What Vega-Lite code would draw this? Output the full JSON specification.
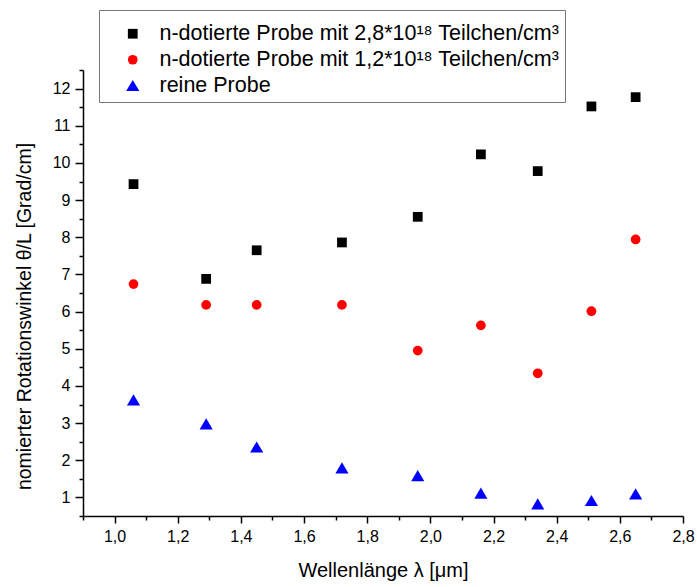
{
  "$schema": "https://vega.github.io/schema/vega-lite/v6.json",
  "width": 600,
  "height": 446,
  "autosize": {"type": "none"},
  "padding": {"left": 83, "top": 70, "right": 14, "bottom": 71},
  "background": "white",
  "config": {
    "view": {"stroke": null},
    "font": "Liberation Sans",
    "axis": {
      "domainColor": "black", "domainWidth": 1.5, "tickColor": "black", "tickWidth": 1.5,
      "labelColor": "black", "titleColor": "black", "labelFont": "Liberation Sans", "titleFont": "Liberation Sans",
      "titleFontWeight": "normal", "labelFontSize": 16, "titleFontSize": 20, "grid": false
    },
    "legend": {
      "labelFont": "Liberation Sans", "labelFontSize": 21.5, "labelColor": "black", "labelLimit": 600
    }
  },
  "data": {"values": [
    {"lambda": 1.06, "theta": 9.43, "serie": "n-dotierte Probe mit 2,8*10¹⁸ Teilchen/cm³"},
    {"lambda": 1.29, "theta": 6.88, "serie": "n-dotierte Probe mit 2,8*10¹⁸ Teilchen/cm³"},
    {"lambda": 1.45, "theta": 7.65, "serie": "n-dotierte Probe mit 2,8*10¹⁸ Teilchen/cm³"},
    {"lambda": 1.72, "theta": 7.86, "serie": "n-dotierte Probe mit 2,8*10¹⁸ Teilchen/cm³"},
    {"lambda": 1.96, "theta": 8.55, "serie": "n-dotierte Probe mit 2,8*10¹⁸ Teilchen/cm³"},
    {"lambda": 2.16, "theta": 10.23, "serie": "n-dotierte Probe mit 2,8*10¹⁸ Teilchen/cm³"},
    {"lambda": 2.34, "theta": 9.78, "serie": "n-dotierte Probe mit 2,8*10¹⁸ Teilchen/cm³"},
    {"lambda": 2.51, "theta": 11.52, "serie": "n-dotierte Probe mit 2,8*10¹⁸ Teilchen/cm³"},
    {"lambda": 2.65, "theta": 11.77, "serie": "n-dotierte Probe mit 2,8*10¹⁸ Teilchen/cm³"},
    {"lambda": 1.06, "theta": 6.74, "serie": "n-dotierte Probe mit 1,2*10¹⁸ Teilchen/cm³"},
    {"lambda": 1.29, "theta": 6.18, "serie": "n-dotierte Probe mit 1,2*10¹⁸ Teilchen/cm³"},
    {"lambda": 1.45, "theta": 6.18, "serie": "n-dotierte Probe mit 1,2*10¹⁸ Teilchen/cm³"},
    {"lambda": 1.72, "theta": 6.18, "serie": "n-dotierte Probe mit 1,2*10¹⁸ Teilchen/cm³"},
    {"lambda": 1.96, "theta": 4.95, "serie": "n-dotierte Probe mit 1,2*10¹⁸ Teilchen/cm³"},
    {"lambda": 2.16, "theta": 5.63, "serie": "n-dotierte Probe mit 1,2*10¹⁸ Teilchen/cm³"},
    {"lambda": 2.34, "theta": 4.34, "serie": "n-dotierte Probe mit 1,2*10¹⁸ Teilchen/cm³"},
    {"lambda": 2.51, "theta": 6.01, "serie": "n-dotierte Probe mit 1,2*10¹⁸ Teilchen/cm³"},
    {"lambda": 2.65, "theta": 7.94, "serie": "n-dotierte Probe mit 1,2*10¹⁸ Teilchen/cm³"},
    {"lambda": 1.06, "theta": 3.62, "serie": "reine Probe"},
    {"lambda": 1.29, "theta": 2.97, "serie": "reine Probe"},
    {"lambda": 1.45, "theta": 2.35, "serie": "reine Probe"},
    {"lambda": 1.72, "theta": 1.79, "serie": "reine Probe"},
    {"lambda": 1.96, "theta": 1.58, "serie": "reine Probe"},
    {"lambda": 2.16, "theta": 1.11, "serie": "reine Probe"},
    {"lambda": 2.34, "theta": 0.82, "serie": "reine Probe"},
    {"lambda": 2.51, "theta": 0.91, "serie": "reine Probe"},
    {"lambda": 2.65, "theta": 1.09, "serie": "reine Probe"}
  ]},
  "layer": [
    {
      "mark": {"type": "point", "filled": true, "opacity": 1, "strokeWidth": 0, "size": 95},
      "encoding": {
        "x": {
          "field": "lambda", "type": "quantitative",
          "scale": {"domain": [0.9, 2.8], "nice": false, "zero": false},
          "axis": {
            "orient": "bottom", "title": "Wellenlänge λ [μm]",
            "values": [1.0, 1.2, 1.4, 1.6, 1.8, 2.0, 2.2, 2.4, 2.6, 2.8],
            "labelExpr": "replace(format(datum.value, '.1f'), '.', ',')",
            "tickSize": 7, "labelPadding": 5, "titlePadding": 16, "labelFlush": false, "labelOverlap": false
          }
        },
        "y": {
          "field": "theta", "type": "quantitative",
          "scale": {"domain": [0.5, 12.5], "nice": false, "zero": false},
          "axis": {
            "orient": "left", "title": "nomierter Rotationswinkel  θ/L [Grad/cm]",
            "values": [1, 2, 3, 4, 5, 6, 7, 8, 9, 10, 11, 12],
            "tickSize": 8, "labelPadding": 5, "titlePadding": 18, "labelFlush": false, "labelOverlap": false,
            "titleFontSize": 19.5, "titleY": 246
          }
        },
        "color": {
          "field": "serie", "type": "nominal",
          "scale": {
            "domain": ["n-dotierte Probe mit 2,8*10¹⁸ Teilchen/cm³", "n-dotierte Probe mit 1,2*10¹⁸ Teilchen/cm³", "reine Probe"],
            "range": ["#000000", "#ff0000", "#0000ff"]
          },
          "legend": {
            "title": " ", "titleFontSize": 8, "titlePadding": 0, "orient": "none", "legendX": 16, "legendY": -60,
            "strokeColor": "#777777", "fillColor": "white", "padding": 5,
            "symbolOffset": 18, "labelOffset": 16, "rowPadding": 3, "symbolStrokeWidth": 0, "symbolSize": 95
          }
        },
        "shape": {
          "field": "serie", "type": "nominal",
          "scale": {
            "domain": ["n-dotierte Probe mit 2,8*10¹⁸ Teilchen/cm³", "n-dotierte Probe mit 1,2*10¹⁸ Teilchen/cm³", "reine Probe"],
            "range": ["square", "circle", "M0,-1.2L1.35,1.1L-1.35,1.1Z"]
          }
        }
      }
    },
    {
      "mark": {"type": "point", "opacity": 0},
      "encoding": {
        "x": {
          "field": "lambda", "type": "quantitative",
          "scale": {"domain": [0.9, 2.8], "nice": false, "zero": false},
          "axis": {
            "orient": "bottom", "title": null, "labels": false, "domain": false,
            "values": [0.9, 1.1, 1.3, 1.5, 1.7, 1.9, 2.1, 2.3, 2.5, 2.7],
            "tickSize": 4
          }
        },
        "y": {
          "field": "theta", "type": "quantitative",
          "scale": {"domain": [0.5, 12.5], "nice": false, "zero": false},
          "axis": {
            "orient": "left", "title": null, "labels": false, "domain": false,
            "values": [0.5, 1.5, 2.5, 3.5, 4.5, 5.5, 6.5, 7.5, 8.5, 9.5, 10.5, 11.5, 12.5],
            "tickSize": 4
          }
        }
      }
    }
  ],
  "resolve": {"axis": {"x": "independent", "y": "independent"}}
}
